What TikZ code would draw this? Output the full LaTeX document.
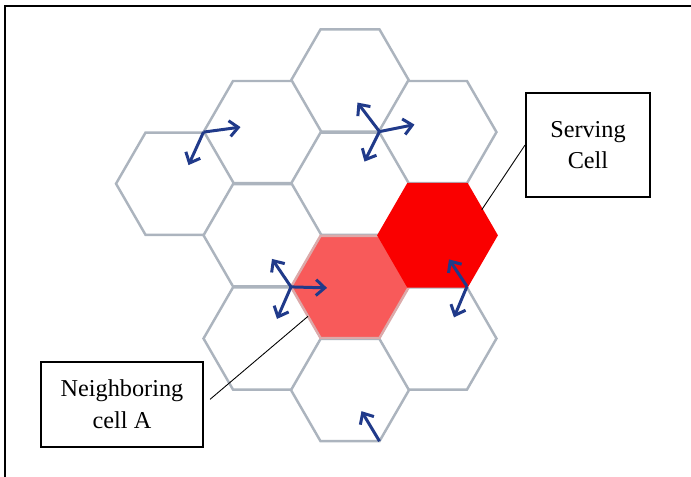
\documentclass[tikz,border=0pt]{standalone}
\usepackage{fontspec}
\setmainfont{Liberation Serif}
\usetikzlibrary{arrows.meta,shapes.geometric}

\definecolor{cellgray}{RGB}{172,180,190}
\definecolor{servred}{RGB}{250,0,0}
\definecolor{nbrpink}{RGB}{248,90,90}
\definecolor{nbredge}{RGB}{220,170,170}
\definecolor{moveblue}{RGB}{32,58,138}

\begin{document}
\begin{tikzpicture}[x=0.02cm, y=-0.02cm,
  cell/.style={regular polygon, regular polygon sides=6, minimum size=2.36cm,
    inner sep=0pt, outer sep=0pt, draw=cellgray, line width=1.4pt, fill=white},
  callout/.style={draw, line width=1.1pt, fill=white, align=center, inner sep=0pt,
    font=\fontsize{13.8}{18}\selectfont},
  move/.style={draw=moveblue, line width=1.7pt, -{Straight Barb[length=5pt,width=9pt]}},
  leader/.style={line width=0.5pt}]

\def\width{691}
\def\height{477}
\def\ox{350}
\def\oy{80.5}
\def\dx{87.5}
\def\dy{51.6}

\path [use as bounding box] (0,0) rectangle (\width,\height);

% FRAME
\draw [line width=1.4pt] (5,\height) -- (5,6) -- (\width,6);

% CELLS
\foreach \c/\k/\name in {0/0/top, -1/1/upl, 1/1/upr, -2/2/far, 0/2/mid,
    -1/3/midl, -1/5/lowl, 1/5/lowr, 0/6/bot}
  \node [cell] (\name) at ({\ox+(\c)*\dx}, {\oy+(\k)*\dy}) {};
\node [cell, fill=nbrpink, draw=nbredge] (nbr) at (\ox, {\oy+4*\dy}) {};
\node [cell, fill=servred, draw=servred] (serv) at ({\ox+\dx}, {\oy+3*\dy}) {};

% MOVES
\draw [move] (upl.180) -- ++(37,-5);
\draw [move] (upl.180) -- ++(-15,33);
\draw [move] (top.300) -- ++(-22,-29);
\draw [move] (top.300) -- ++(35,-7);
\draw [move] (top.300) -- ++(-15,30);
\draw [move] (nbr.180) -- ++(-19,-28);
\draw [move] (nbr.180) -- ++(36,1);
\draw [move] (nbr.180) -- ++(-14,32);
\draw [move] (serv.300) -- ++(-18,-27);
\draw [move] (serv.300) -- ++(-13,31);
\draw [move] (bot.300) -- ++(-18,-30);

% LABELS
\node [callout, minimum width=2.48cm, minimum height=2.08cm] (servbox) at (588,145) {Serving\\Cell};
\node [callout, minimum width=3.24cm, minimum height=1.7cm] (nbrbox) at (122,404.5) {Neighboring\\cell A};
\draw [leader] (servbox.west) -- (serv.30);
\draw [leader, shorten <=0.16cm] (nbrbox.east) -- (nbr.215);

\end{tikzpicture}
\end{document}
